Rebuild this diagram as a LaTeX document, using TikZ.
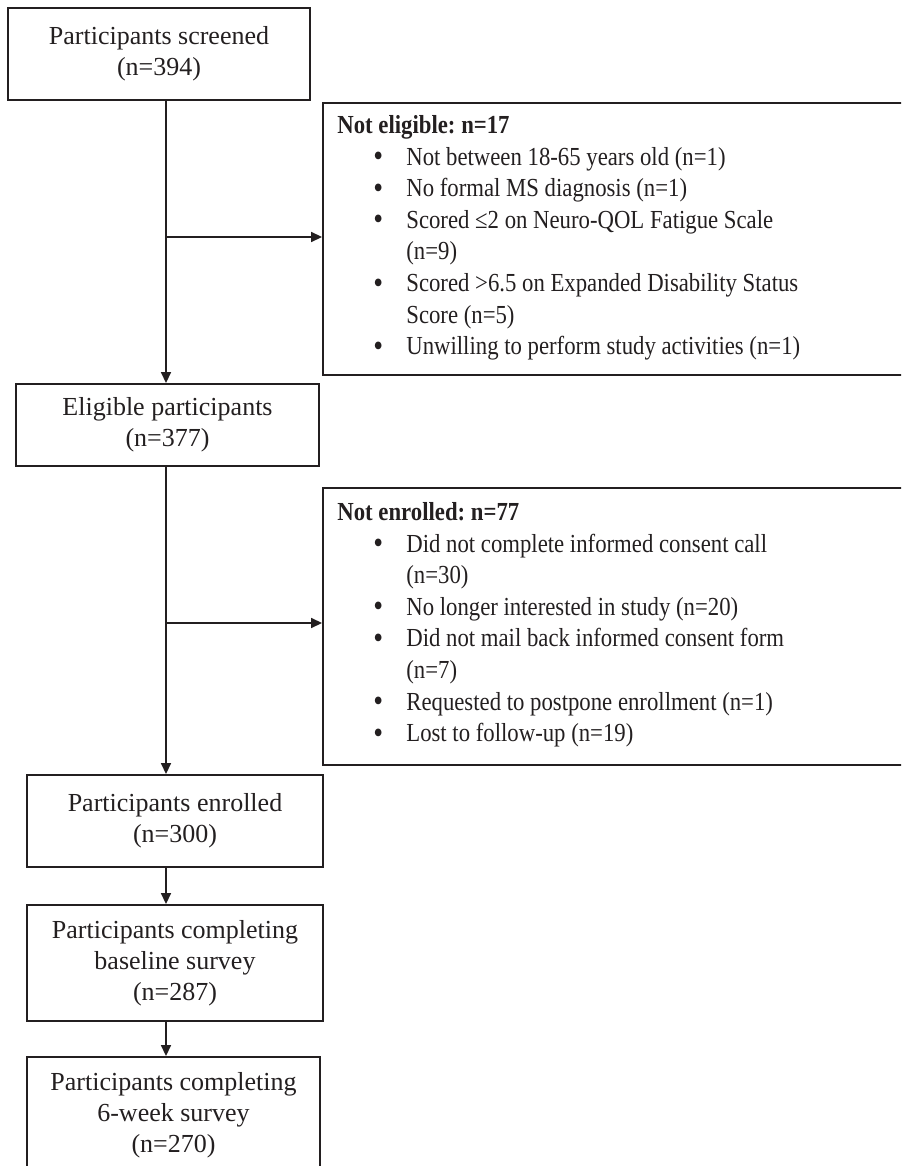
\documentclass[tikz,border=0pt]{standalone}
\usepackage{fontspec}
\usepackage{graphicx}
\setmainfont{Liberation Serif}
\usetikzlibrary{arrows.meta}
\definecolor{ink}{HTML}{231F20}
\newcommand\bl{\hspace*{20.6pt}\makebox[18.8pt][l]{\raisebox{-0.8pt}{\fontsize{16}{16}\selectfont\textbullet}}}
\newcommand\ct{\hspace*{39.4pt}}
\begin{document}
\begin{tikzpicture}[x=0.5pt,y=-0.5pt,
  box/.style={draw=ink, line width=0.95pt, inner sep=0pt, rectangle},
  txt/.style={text=ink, inner sep=0pt, font=\fontsize{13}{15.6}\selectfont\frenchspacing},
  side/.style={text=ink, inner sep=0pt, anchor=north west, font=\fontsize{13}{15.8}\selectfont\frenchspacing},
  arr/.style={draw=ink, line width=0.8pt, -{Triangle[length=5.5pt,width=5pt]}}]
\useasboundingbox (0,0) rectangle (901,1166);
\clip (0,0) rectangle (901,1166);
% main boxes
\node[box, minimum width=151pt, minimum height=46pt] (b1) at (159,54) {};
\node[box, minimum width=151.5pt, minimum height=41pt] (b2) at (167.5,425) {};
\node[box, minimum width=148pt, minimum height=46pt] (b3) at (175,821) {};
\node[box, minimum width=148pt, minimum height=58pt] (b4) at (175,963) {};
\node[box, minimum width=146.5pt, minimum height=58pt] (b5) at (173.5,1115) {};
% side boxes
\node[box, minimum width=294.5pt, minimum height=136pt] (ne) at (617.5,239) {};
\node[box, minimum width=294.5pt, minimum height=138.5pt] (nr) at (617.5,626.5) {};
% texts
\node[txt, align=center] (t1) at (b1) {Participants screened\\(n=394)};
\node[txt, align=center] (t2) at (b2) {Eligible participants\\(n=377)};
\node[txt, align=center] (t3) at (b3) {Participants enrolled\\(n=300)};
\node[txt, align=center] (t4) at (b4) {Participants completing\\baseline survey\\(n=287)};
\node[txt, align=center] (t5) at (b5) {Participants completing\\6-week survey\\(n=270)};
\node[side] (tne) at (337,111) {\scalebox{0.875}[1]{\begin{tabular}{@{}l@{}}
\textbf{Not eligible: n=17}\\
\bl Not between 18-65 years old (n=1)\\
\bl No formal MS diagnosis (n=1)\\
\bl Scored ≤2 on Neuro-QOL Fatigue Scale\\
\ct (n=9)\\
\bl Scored >6.5 on Expanded Disability Status\\
\ct Score (n=5)\\
\bl Unwilling to perform study activities (n=1)
\end{tabular}}};
\node[side] (tnr) at (337,498) {\scalebox{0.875}[1]{\begin{tabular}{@{}l@{}}
\textbf{Not enrolled: n=77}\\
\bl Did not complete informed consent call\\
\ct (n=30)\\
\bl No longer interested in study (n=20)\\
\bl Did not mail back informed consent form\\
\ct (n=7)\\
\bl Requested to postpone enrollment (n=1)\\
\bl Lost to follow-up (n=19)
\end{tabular}}};
% connectors
\coordinate (sp) at (166,0);
\coordinate (j1) at (166,237);
\coordinate (j2) at (166,623);
\draw[arr] (b1.south -| sp) -- (b2.north -| sp);
\draw[arr] (j1) -- (j1 -| ne.west);
\draw[arr] (b2.south -| sp) -- (b3.north -| sp);
\draw[arr] (j2) -- (j2 -| nr.west);
\draw[arr] (b3.south -| sp) -- (b4.north -| sp);
\draw[arr] (b4.south -| sp) -- (b5.north -| sp);
\end{tikzpicture}
\end{document}
